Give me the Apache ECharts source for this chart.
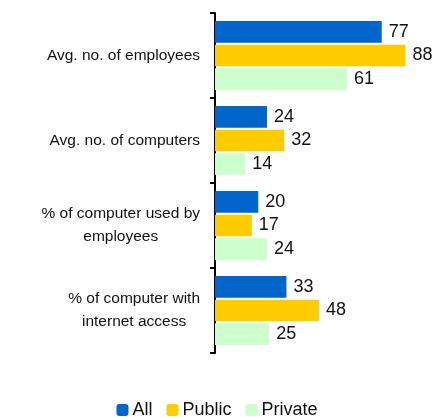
<!DOCTYPE html>
<html><head><meta charset="utf-8">
<script src="https://cdn.jsdelivr.net/npm/echarts@6/dist/echarts.min.js"></script>
<style>html,body{margin:0;padding:0;background:#fff}#c{width:434px;height:417px}</style>
</head><body><div id="c"></div>
<script>
var categories = ['Avg. no. of employees', 'Avg. no. of computers', '% of computer used by\nemployees', '% of computer with\ninternet access'];
var allValues = [77, 24, 20, 33];
var publicValues = [88, 32, 17, 48];
var privateValues = [61, 14, 24, 25];
var seriesNames = ['All', 'Public', 'Private'];
var colors = ['#0066CC', '#FFCC00', '#CCFFCC'];

var chart = echarts.init(document.getElementById('c'));
var font = '"Liberation Sans", Arial, sans-serif';
function mk(name, data, color) {
  return {
    name: name, type: 'bar', data: data, barGap: '9%', barCategoryGap: '19%',
    itemStyle: {color: color},
    label: {show: true, position: 'right', distance: 7, color: '#111', fontSize: 18, fontFamily: font}
  };
}
chart.setOption({
  animation: false,
  grid: {left: 215, right: 2.5, top: 13, bottom: 64, containLabel: false},
  xAxis: {type: 'value', min: 0, max: 100, show: false},
  yAxis: {
    type: 'category', data: categories, inverse: true,
    axisLine: {show: true, lineStyle: {color: '#000', width: 2}},
    axisTick: {show: true, length: 5, lineStyle: {color: '#000', width: 2}},
    axisLabel: {
      color: '#111', fontSize: 15.5, fontFamily: font, margin: 15, align: 'right',
      formatter: function (v) { return v.split('\n').map(function (l) { return '{c|' + l + '}'; }).join('\n'); },
      rich: {c: {align: 'center', fontSize: 15.5, fontFamily: font, color: '#111', lineHeight: 23}}
    }
  },
  legend: {
    top: 396, left: 'center', itemWidth: 12, itemHeight: 12, itemGap: 14,
    textStyle: {fontSize: 18, fontFamily: font, color: '#111', padding: [0, 0, 0, -1]},
    data: seriesNames
  },
  series: [mk(seriesNames[0], allValues, colors[0]), mk(seriesNames[1], publicValues, colors[1]), mk(seriesNames[2], privateValues, colors[2])]
});
</script></body></html>
